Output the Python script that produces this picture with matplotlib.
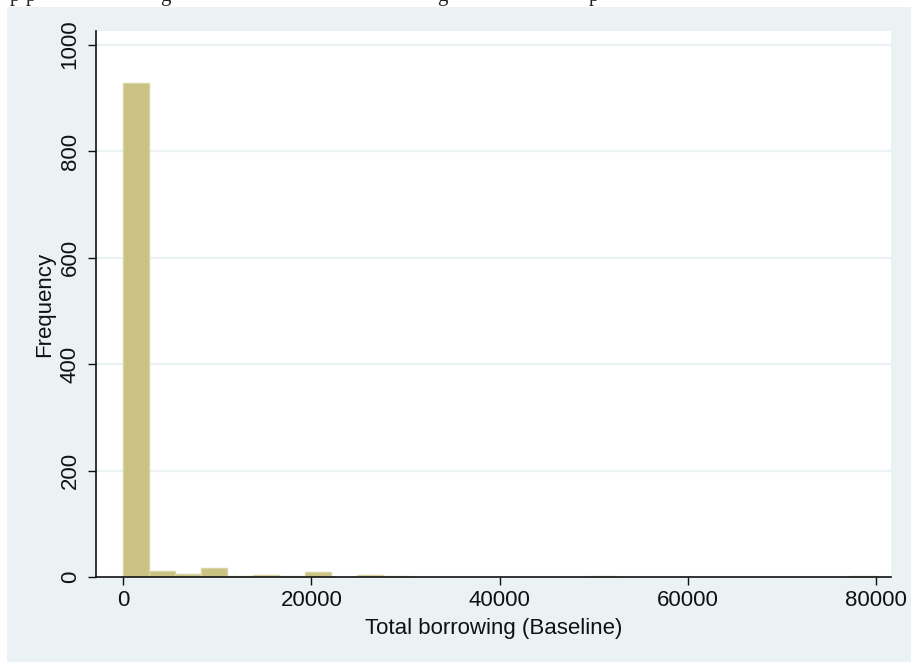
import numpy as np
import matplotlib
matplotlib.use("Agg")
import matplotlib.pyplot as plt
from matplotlib.patches import Rectangle

# --- histogram data (29 equal bins, 0 .. 80000) ---
bin_min = 0
bin_max = 80000
counts = [927, 11, 7, 17, 2, 5, 2, 10, 0, 4, 2, 0, 0, 0, 0,
          0, 0, 0, 2, 0, 0, 0, 0, 0, 0, 0, 0, 0, 2]
x_ticks = [0, 20000, 40000, 60000, 80000]
y_ticks = [0, 200, 400, 600, 800, 1000]
x_label = "Total borrowing (Baseline)"
y_label = "Frequency"

edges = np.linspace(bin_min, bin_max, len(counts) + 1)

BG = "#EAF2F3"
BAR = "#C9C283"
BAR_EDGE = "#DAD4A4"

plt.rcParams["font.family"] = ["Liberation Sans", "DejaVu Sans"]

W, H = 912, 662
fig = plt.figure(figsize=(W / 100, H / 100), dpi=100, facecolor="white")

# bluish graph region (page is white in the thin strip above / left)
fig.patches.append(Rectangle((7 / W, 0), 1 - 7 / W, (H - 7) / H,
                             transform=fig.transFigure, facecolor=BG,
                             edgecolor="none", zorder=-5))

# descenders of the page text line that got cut off above the figure
for px, ch in [(10, "p"), (26, "p"), (160, "g"), (437, "g"), (589, "p")]:
    fig.text(px / W, (H - 0.5) / H, ch, family="Liberation Serif",
             fontsize=15, va="baseline", ha="left", color="#222222")

ax = fig.add_axes([96 / W, (H - 577.3) / H, (890.7 - 96) / W, (577.3 - 30.7) / H])
ax.set_zorder(2)
ax.set_facecolor("white")

ax.bar(edges[:-1], counts, width=np.diff(edges), align="edge",
       color=BAR, edgecolor=BAR_EDGE, linewidth=1.0, zorder=2)

ax.set_xlim(-2903, 81595)
ax.set_ylim(0, 1026)
ax.set_xticks(x_ticks)
ax.set_yticks(y_ticks)

ax.grid(axis="y", color=BG, linewidth=1.6, zorder=0)
ax.set_axisbelow(True)

for s in ["top", "right"]:
    ax.spines[s].set_visible(False)
for s in ["left", "bottom"]:
    ax.spines[s].set_color("#111111")
    ax.spines[s].set_linewidth(1.2)

ax.tick_params(axis="both", direction="out", length=6, width=1.0,
               color="#111111", labelsize=16, labelcolor="#111111")
ax.tick_params(axis="x", pad=3)
ax.tick_params(axis="y", pad=5)
for lab in ax.get_yticklabels():
    lab.set_rotation(90)
    lab.set_va("center")

ax.set_xlabel(x_label, fontsize=16, color="#111111", labelpad=5)
ax.set_ylabel(y_label, fontsize=16, color="#111111", labelpad=3)

fig.savefig("out.png", dpi=100, facecolor="white")
plt.close(fig)
